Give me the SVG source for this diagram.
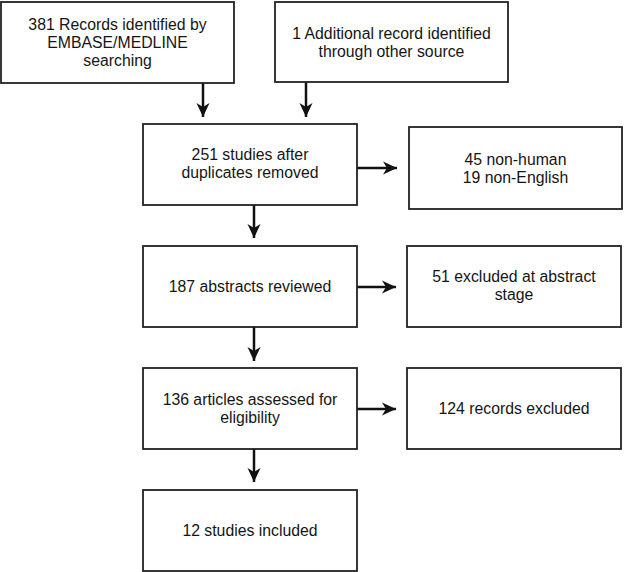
<svg xmlns="http://www.w3.org/2000/svg" width="625" height="572" viewBox="0 0 625 572">
<defs>
<marker id="ah" markerUnits="userSpaceOnUse" markerWidth="16" markerHeight="16" viewBox="-15 -8 16 16" refX="0" refY="0" orient="auto">
<path d="M0,0 L-14,-6.5 L-10,0 L-14,6.5 Z" fill="#111"/>
</marker>
</defs>
<style>
.box{fill:#fff;stroke:#222;stroke-width:1.8}
.t{font-family:"Liberation Sans",Arial,sans-serif;font-size:15.8px;fill:#151515;text-anchor:middle}
.c{stroke:#111;stroke-width:2.5;fill:none;marker-end:url(#ah)}
</style>
<rect width="625" height="572" fill="#fff"/>
<g id="connectors">
<line class="c" x1="203" y1="83" x2="203" y2="117"/>
<line class="c" x1="306" y1="82" x2="306" y2="117"/>
<line class="c" x1="357" y1="168" x2="397" y2="168"/>
<line class="c" x1="254" y1="205" x2="254" y2="238"/>
<line class="c" x1="357" y1="287" x2="396" y2="287"/>
<line class="c" x1="254" y1="327" x2="254" y2="361"/>
<line class="c" x1="357" y1="409" x2="396" y2="409"/>
<line class="c" x1="254" y1="449" x2="254" y2="482"/>
</g>
<g id="n1"><rect class="box" x="1" y="2" width="233" height="81"/>
<text class="t" x="117.5" y="30">381 Records identified by</text>
<text class="t" x="117.5" y="48">EMBASE/MEDLINE</text>
<text class="t" x="117.5" y="66">searching</text></g>
<g id="n2"><rect class="box" x="275" y="2" width="233" height="80"/>
<text class="t" x="391.5" y="38.5">1 Additional record identified</text>
<text class="t" x="391.5" y="56.5">through other source</text></g>
<g id="n3"><rect class="box" x="143" y="124" width="214" height="81"/>
<text class="t" x="250" y="160">251 studies after</text>
<text class="t" x="250" y="178">duplicates removed</text></g>
<g id="n4"><rect class="box" x="409" y="127" width="213" height="82"/>
<text class="t" x="515.5" y="165">45 non-human</text>
<text class="t" x="515.5" y="183">19 non-English</text></g>
<g id="n5"><rect class="box" x="143" y="246" width="214" height="81"/>
<text class="t" x="250" y="292">187 abstracts reviewed</text></g>
<g id="n6"><rect class="box" x="407" y="246" width="214" height="81"/>
<text class="t" x="514" y="282">51 excluded at abstract</text>
<text class="t" x="514" y="300">stage</text></g>
<g id="n7"><rect class="box" x="143" y="368" width="214" height="81"/>
<text class="t" x="250" y="405">136 articles assessed for</text>
<text class="t" x="250" y="423">eligibility</text></g>
<g id="n8"><rect class="box" x="407" y="368" width="214" height="81"/>
<text class="t" x="514" y="414">124 records excluded</text></g>
<g id="n9"><rect class="box" x="143" y="490" width="214" height="81"/>
<text class="t" x="250" y="536">12 studies included</text></g>
</svg>
